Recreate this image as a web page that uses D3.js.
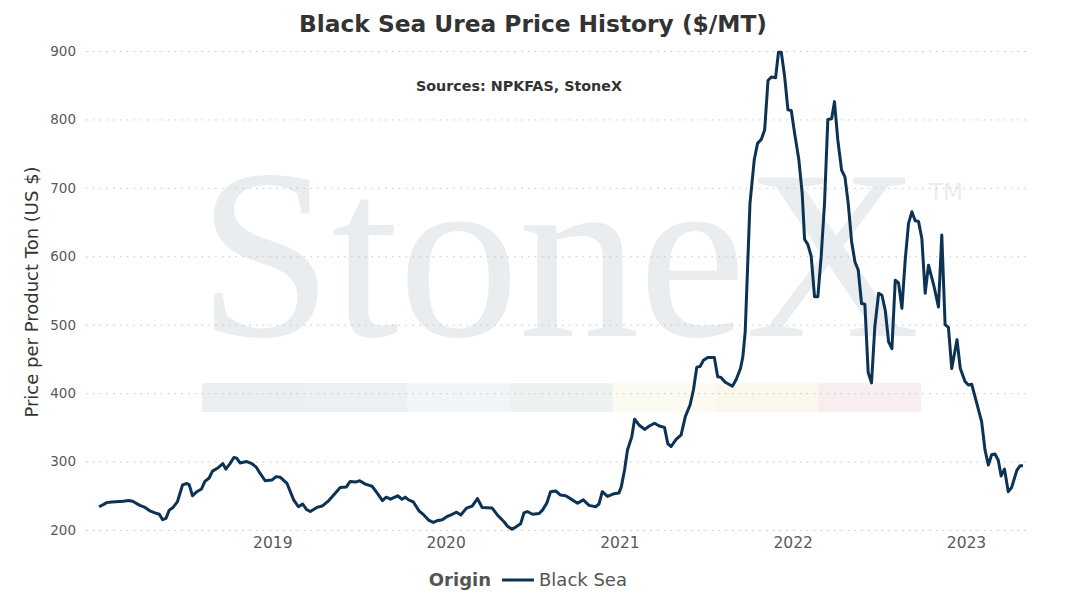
<!DOCTYPE html>
<html lang="en">
    <head>
        <meta charset="utf-8">
        <title>Black Sea Urea Price History</title>
        <script type="text/javascript" src="https://cdn.jsdelivr.net/npm/d3@7/dist/d3.min.js"></script>
        <style>
            body { margin: 0; background: #fff; }
            svg { display: block; font-family: "DejaVu Sans", Verdana, sans-serif; }
        </style>
    </head>
    <body>
        <script type="text/javascript">

            //Width and height
            var w = 1066;
            var h = 608;

            //Price observations (Black Sea origin, $/MT)
            var priceDates = [
                "2018-01-01", "2018-01-10", "2018-01-17", "2018-01-28", "2018-02-21", "2018-03-04", "2018-03-13", "2018-03-28",
                "2018-04-08", "2018-04-18", "2018-04-29", "2018-05-08", "2018-05-15", "2018-05-22", "2018-05-29", "2018-06-06",
                "2018-06-15", "2018-06-26", "2018-07-05", "2018-07-10", "2018-07-17", "2018-07-26", "2018-08-05", "2018-08-12",
                "2018-08-21", "2018-08-28", "2018-09-09", "2018-09-19", "2018-09-25", "2018-10-04", "2018-10-12", "2018-10-18",
                "2018-10-25", "2018-11-08", "2018-11-19", "2018-11-28", "2018-12-06", "2018-12-17", "2018-12-31",
                "2019-01-09", "2019-01-18", "2019-02-01", "2019-02-15", "2019-02-25", "2019-03-06", "2019-03-14", "2019-03-22",
                "2019-04-05", "2019-04-16", "2019-04-30", "2019-05-14", "2019-05-24", "2019-06-06", "2019-06-14", "2019-06-25",
                "2019-07-04", "2019-07-16", "2019-07-30", "2019-08-10", "2019-08-21", "2019-08-29", "2019-09-07", "2019-09-22",
                "2019-10-01", "2019-10-08", "2019-10-15", "2019-10-25", "2019-11-06", "2019-11-16", "2019-11-27", "2019-12-06",
                "2019-12-16", "2019-12-25",
                "2020-01-05", "2020-01-15", "2020-01-24", "2020-02-02", "2020-02-14", "2020-02-26", "2020-03-08", "2020-03-18",
                "2020-04-08", "2020-04-19", "2020-05-03", "2020-05-11", "2020-05-20", "2020-05-27", "2020-06-07", "2020-06-14",
                "2020-06-21", "2020-07-02", "2020-07-16", "2020-07-23", "2020-08-01", "2020-08-09", "2020-08-20", "2020-08-30",
                "2020-09-10", "2020-09-24", "2020-10-05", "2020-10-17", "2020-10-29", "2020-11-12", "2020-11-19", "2020-11-26",
                "2020-12-07", "2020-12-21", "2020-12-31",
                "2021-01-05", "2021-01-12", "2021-01-18", "2021-01-27", "2021-02-02", "2021-02-12", "2021-02-23", "2021-03-05",
                "2021-03-16", "2021-03-26", "2021-04-06", "2021-04-13", "2021-04-20", "2021-04-30", "2021-05-11", "2021-05-20",
                "2021-05-30", "2021-06-06", "2021-06-13", "2021-06-20", "2021-06-27", "2021-07-06", "2021-07-20", "2021-07-27",
                "2021-08-03", "2021-08-12", "2021-08-27", "2021-09-04", "2021-09-13", "2021-09-18", "2021-09-23", "2021-09-27",
                "2021-10-03", "2021-10-12", "2021-10-19", "2021-10-27", "2021-11-03", "2021-11-10", "2021-11-17", "2021-11-26",
                "2021-12-02", "2021-12-08", "2021-12-15", "2021-12-22", "2021-12-29",
                "2022-01-05", "2022-01-14", "2022-01-21", "2022-01-26", "2022-02-02", "2022-02-09", "2022-02-16", "2022-02-23",
                "2022-03-02", "2022-03-09", "2022-03-16", "2022-03-24", "2022-03-30", "2022-04-06", "2022-04-14", "2022-04-21",
                "2022-04-28", "2022-05-05", "2022-05-12", "2022-05-19", "2022-05-26", "2022-06-02", "2022-06-09", "2022-06-16",
                "2022-06-23", "2022-07-01", "2022-07-08", "2022-07-15", "2022-07-22", "2022-07-29", "2022-08-05", "2022-08-12",
                "2022-08-19", "2022-08-26", "2022-09-02", "2022-09-09", "2022-09-16", "2022-09-23", "2022-09-30", "2022-10-07",
                "2022-10-14", "2022-10-25", "2022-11-04", "2022-11-11", "2022-11-18", "2022-11-25", "2022-12-02", "2022-12-13",
                "2022-12-20", "2022-12-30",
                "2023-01-06", "2023-01-13", "2023-01-20", "2023-02-03", "2023-02-10", "2023-02-17", "2023-02-24", "2023-03-03",
                "2023-03-10", "2023-03-16", "2023-03-23", "2023-03-31", "2023-04-07", "2023-04-18", "2023-04-25", "2023-05-01"
            ];

            var blackSeaPrices = [
                234, 237, 240, 241, 242, 243, 242, 236,
                233, 228, 225, 223, 215, 217, 229, 233,
                241, 266, 268, 266, 250, 256, 260, 271,
                276, 286, 291, 297, 289, 297, 306, 305,
                298, 300, 297, 292, 283, 272, 273,
                278, 277, 268, 244, 234, 238, 230, 227,
                233, 235, 243, 254, 262, 263, 271, 270,
                272, 267, 264, 254, 243, 248, 245, 250,
                245, 248, 244, 241, 228, 222, 214, 211,
                214, 215,
                220, 223, 226, 222, 232, 235, 246, 233,
                232, 222, 212, 205, 201, 204, 209, 225,
                227, 223, 224, 229, 239, 256, 257, 251,
                250, 244, 239, 244, 236, 234, 238, 256,
                249, 253, 254,
                263, 288, 317, 336, 362, 353, 347, 352,
                356, 352, 350, 326, 322, 332, 339, 366,
                383, 405, 438, 439, 448, 452, 452, 424,
                423, 416, 410, 420, 436, 453, 490, 565,
                677, 741, 765, 771, 785, 857, 862, 861,
                898, 898, 863, 814, 813,
                780, 741, 692, 625, 617, 600, 541, 541,
                600, 677, 800, 801, 826, 770, 726, 716,
                677, 622, 592, 580, 531, 530, 430, 415,
                497, 546, 543, 521, 475, 465, 565, 561,
                524, 595, 648, 665, 652, 651, 626, 546,
                587, 558, 526, 631, 500, 496, 436, 478,
                436, 417,
                412, 413, 395, 358, 317, 295, 310, 311,
                302, 279, 289, 256, 262, 287, 294, 294
            ];

            var yTicks = [200, 300, 400, 500, 600, 700, 800, 900];
            var xTickYears = ["2019-01-01", "2020-01-01", "2021-01-01", "2022-01-01", "2023-01-01"];

            //Watermark band colours
            var bandColors = ["#eceff2", "#edf0f3", "#f2f5f8", "#edf2f1", "#fcfbf1", "#fbf7ec", "#f8edef"];

            var parseDate = d3.timeParse("%Y-%m-%d");

            var dataset = priceDates.map(function (d, i) {
                return { date: parseDate(d), price: blackSeaPrices[i] };
            });

            //Create scale functions
            var xScale = d3.scaleTime()
                    .domain([parseDate("2018-01-01"), parseDate("2023-01-01")])
                    .range([99, 966]);

            var yScale = d3.scaleLinear()
                    .domain([200, 900])
                    .range([530, 51]);

            //Create SVG element
            var svg = d3.select("body")
                    .append("svg")
                    .attr("width", w)
                    .attr("height", h);

            //StoneX watermark
            var wm = svg.append("g").attr("class", "watermark");

            wm.selectAll("rect")
                    .data(bandColors)
                    .enter()
                    .append("rect")
                    .attr("x", function (d, i) {
                        return 202 + i * 102.7;
                    })
                    .attr("y", 383)
                    .attr("width", 103)
                    .attr("height", 29)
                    .attr("fill", function (d) {
                        return d;
                    });

            wm.append("text")
                    .attr("x", 198)
                    .attr("y", 336)
                    .attr("font-family", "'Liberation Serif', 'DejaVu Serif', serif")
                    .attr("font-size", "242px")
                    .attr("textLength", 722)
                    .attr("fill", "#e9edf0")
                    .text("StoneX");

            wm.append("text")
                    .attr("x", 929)
                    .attr("y", 200)
                    .attr("font-size", "23px")
                    .attr("fill", "#eaedf0")
                    .text("TM");

            //Gridlines
            svg.selectAll("line.grid")
                    .data(yTicks)
                    .enter()
                    .append("line")
                    .attr("class", "grid")
                    .attr("x1", 86)
                    .attr("x2", 1027)
                    .attr("y1", function (d) {
                        return yScale(d) + 0.5;
                    })
                    .attr("y2", function (d) {
                        return yScale(d) + 0.5;
                    })
                    .attr("stroke", "#c4c4c4")
                    .attr("stroke-width", 1)
                    .attr("stroke-dasharray", "1.5,5.3");

            //Y axis
            var yAxis = d3.axisLeft(yScale)
                    .tickValues(yTicks)
                    .tickSize(0)
                    .tickPadding(0);

            var gy = svg.append("g")
                    .attr("transform", "translate(76,0)")
                    .call(yAxis);
            gy.select(".domain").remove();
            gy.selectAll("text")
                    .attr("font-family", "'DejaVu Sans', Verdana, sans-serif")
                    .attr("font-size", "13.5px")
                    .attr("fill", "#595959");

            //X axis
            var xAxis = d3.axisBottom(xScale)
                    .tickValues(xTickYears.map(parseDate))
                    .tickFormat(d3.timeFormat("%Y"))
                    .tickSize(0)
                    .tickPadding(0);

            var gx = svg.append("g")
                    .attr("transform", "translate(0,537)")
                    .call(xAxis);
            gx.select(".domain").remove();
            gx.selectAll("text")
                    .attr("font-family", "'DejaVu Sans', Verdana, sans-serif")
                    .attr("font-size", "15.5px")
                    .attr("fill", "#595959");

            //Price line
            var line = d3.line()
                    .x(function (d) {
                        return xScale(d.date);
                    })
                    .y(function (d) {
                        return yScale(d.price);
                    });

            svg.append("path")
                    .datum(dataset)
                    .attr("d", line)
                    .attr("fill", "none")
                    .attr("stroke", "#0d3354")
                    .attr("stroke-width", 3)
                    .attr("stroke-linejoin", "round");

            //Titles
            svg.append("text")
                    .attr("x", 533)
                    .attr("y", 32)
                    .attr("text-anchor", "middle")
                    .attr("font-size", "23.3px")
                    .attr("font-weight", "bold")
                    .attr("fill", "#333333")
                    .text("Black Sea Urea Price History ($/MT)");

            svg.append("text")
                    .attr("x", 519)
                    .attr("y", 91)
                    .attr("text-anchor", "middle")
                    .attr("font-size", "14.3px")
                    .attr("font-weight", "bold")
                    .attr("fill", "#333333")
                    .text("Sources: NPKFAS, StoneX");

            svg.append("text")
                    .attr("transform", "translate(38,292) rotate(-90)")
                    .attr("text-anchor", "middle")
                    .attr("font-size", "18px")
                    .attr("fill", "#333333")
                    .text("Price per Product Ton (US $)");

            //Legend
            var legend = svg.append("g");

            legend.append("text")
                    .attr("x", 491)
                    .attr("y", 586)
                    .attr("text-anchor", "end")
                    .attr("font-size", "18px")
                    .attr("font-weight", "bold")
                    .attr("fill", "#555555")
                    .text("Origin");

            legend.append("line")
                    .attr("x1", 502)
                    .attr("x2", 534)
                    .attr("y1", 580)
                    .attr("y2", 580)
                    .attr("stroke", "#0d3354")
                    .attr("stroke-width", 3);

            legend.append("text")
                    .attr("x", 539)
                    .attr("y", 586)
                    .attr("font-size", "18px")
                    .attr("fill", "#555555")
                    .text("Black Sea");

        </script>
    </body>
</html>
